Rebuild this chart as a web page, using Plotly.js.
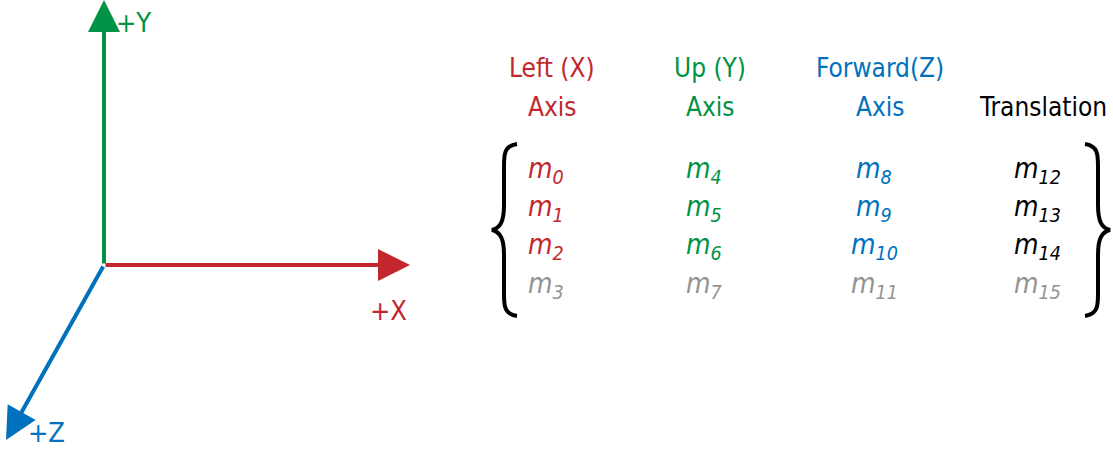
<!DOCTYPE html>
<html>
<head>
<meta charset="utf-8">
<script src="https://cdn.plot.ly/plotly-3.0.1.min.js"></script>
<style>html,body{margin:0;padding:0;background:#fff}#chart{width:1113px;height:455px}</style>
</head>
<body>
<div id="chart"></div>
<script>
// Column headers, colours and matrix element indices
const headers = [['Left (X)', 'Axis'], ['Up (Y)', 'Axis'], ['Forward(Z)', 'Axis'], ['', 'Translation']];
const columnColors = ['#c1272d', '#009245', '#0071bc', '#000000'];
const lastRowColor = '#939393';
const indices = [[0, 1, 2, 3], [4, 5, 6, 7], [8, 9, 10, 11], [12, 13, 14, 15]];

// Axis arrows: label, colour, tip
const axisLabels = ['+X', '+Y', '+Z'];
const axisColors = ['#c1272d', '#009245', '#0071bc'];
const origin = [104, 265];
const tips = [[410, 265], [104, 0], [6, 440]];
const labelPos = [[368, 310], [114, 22], [26, 432]];

const font = 'DejaVu Sans Condensed, DejaVu Sans, sans-serif';
const colX = [552, 710, 880, 1043];
const headY = [68, 107];
const rowY = [170, 208, 246, 285];

const annotations = [];

tips.forEach((t, i) => {
    annotations.push({
        x: t[0], y: t[1], ax: origin[0], ay: origin[1],
        xref: 'x', yref: 'y', axref: 'x', ayref: 'y',
        showarrow: true, arrowhead: 2, arrowsize: 1.6, arrowwidth: 4,
        arrowcolor: axisColors[i], text: ''
    });
    annotations.push({
        x: labelPos[i][0], y: labelPos[i][1], xref: 'x', yref: 'y',
        text: axisLabels[i], showarrow: false, xanchor: 'left',
        font: { family: font, size: 27, color: axisColors[i] }
    });
});

headers.forEach((h, c) => {
    h.forEach((line, r) => {
        if (!line) return;
        annotations.push({
            x: colX[c], y: headY[r], xref: 'x', yref: 'y', text: line, showarrow: false,
            font: { family: font, size: 26, color: columnColors[c] }
        });
    });
    indices[c].forEach((n, r) => {
        const color = r === 3 ? lastRowColor : columnColors[c];
        annotations.push({
            x: colX[c] - 6, y: rowY[r], xref: 'x', yref: 'y', showarrow: false,
            text: '<i>m<sub>' + n + '</sub></i>',
            font: { family: font, size: 28, color: color }
        });
    });
});

// Curly braces around the matrix
const leftBrace = 'M 517 144 C 503 146, 504 156, 504 170 L 504 205 C 504 222, 500 228, 492 230 ' +
    'C 500 232, 504 238, 504 255 L 504 290 C 504 304, 503 314, 517 316';
const rightBrace = 'M 1085 144 C 1099 146, 1098 156, 1098 170 L 1098 205 C 1098 222, 1102 228, 1110 230 ' +
    'C 1102 232, 1098 238, 1098 255 L 1098 290 C 1098 304, 1099 314, 1085 316';

const layout = {
    width: 1113, height: 455,
    margin: { l: 0, r: 0, t: 0, b: 0 },
    paper_bgcolor: '#fff', plot_bgcolor: '#fff',
    xaxis: { range: [0, 1113], visible: false, fixedrange: true },
    yaxis: { range: [455, 0], visible: false, fixedrange: true },
    showlegend: false,
    annotations: annotations,
    shapes: [leftBrace, rightBrace].map(p => ({
        type: 'path', path: p, xref: 'x', yref: 'y',
        line: { color: '#000', width: 4 }
    }))
};

Plotly.newPlot('chart', [{ x: [], y: [], type: 'scatter' }], layout, { staticPlot: true });
</script>
</body>
</html>
